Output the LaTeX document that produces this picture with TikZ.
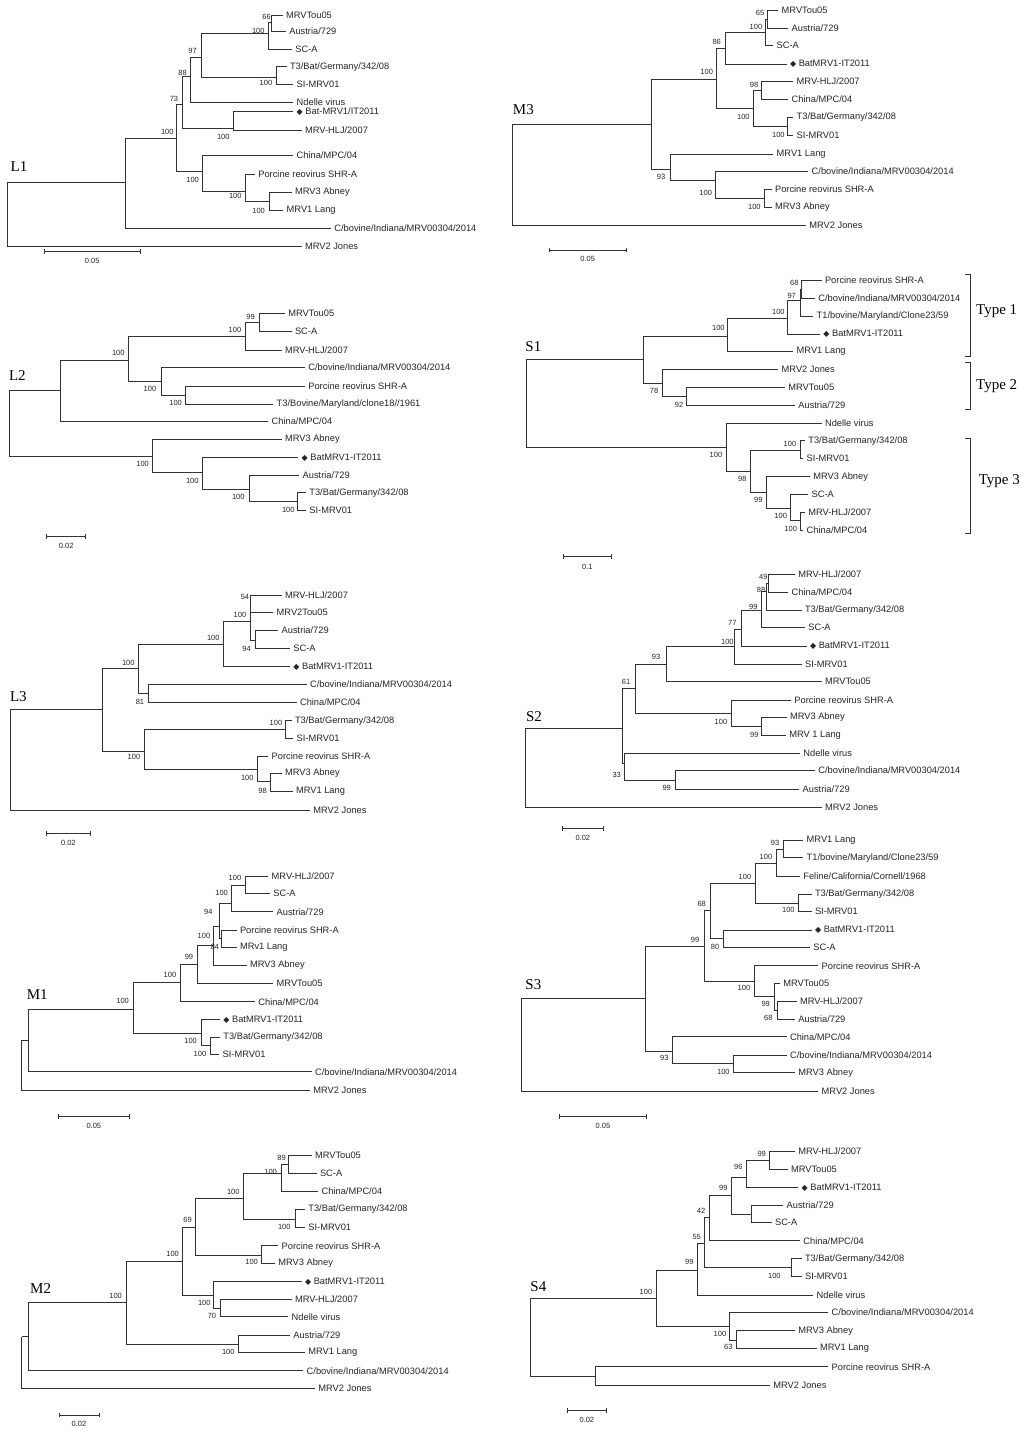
\documentclass[tikz,border=0pt]{standalone}
\usepackage{fontspec}
\setmainfont{Liberation Serif}
\newfontfamily\ar{Liberation Sans}
\newfontfamily\djv{DejaVu Sans}
\tikzset{
 lf/.style={anchor=west,inner sep=0pt,xshift=3pt,font=\ar\fontsize{9.3}{10}\selectfont,text=black!85},
 bsn/.style={inner sep=0pt,font=\ar\fontsize{7.5}{8}\selectfont,text=black!85},
 tl/.style={inner sep=0pt,font=\fontsize{15}{16}\selectfont},
 br/.style={line width=0.75pt,draw=black!80}
}
\newcommand\ed[4]{\draw[br] (#1,#2) |- (#3,#4);}
\newcommand\lf[5]{\draw[br] (#1,#2) |- (#3,#4) node[lf]{#5};}
\newcommand\bs[3]{\node[bsn] at (#1,#2) {#3};}
\newcommand\dm{{\djv\fontsize{8}{8}\selectfont ◆}\ }
\newcommand\sbar[4]{\draw[br] (#1,#3) -- (#2,#3); \draw[br] (#1,#3-7) -- (#1,#3+7); \draw[br] (#2,#3-7) -- (#2,#3+7); \node[bsn] at ({(#1+#2)/2},#3+28) {#4};}
\begin{document}
\begin{tikzpicture}[x=1pt,y=-1pt]
\useasboundingbox[fill=white] (0,0) rectangle (1024,1435);
% ---------------- L1
\begin{scope}[shift={(0,0)},scale=1/3]
\ed{22}{548}{375}{548} \lf{22}{548}{905}{740}{MRV2 Jones}
\ed{375}{548}{530}{415} \lf{375}{548}{993}{685}{C/bovine/Indiana/MRV00304/2014}
\ed{530}{415}{548}{312} \ed{530}{415}{607}{515}
\ed{548}{312}{572}{230} \ed{548}{312}{700}{385}
\ed{572}{230}{605}{172} \lf{572}{230}{880}{307}{Ndelle virus}
\ed{605}{172}{805}{100} \ed{605}{172}{828}{232}
\ed{805}{100}{815}{68} \lf{805}{100}{876}{147}{SC-A}
\lf{815}{68}{848}{45}{MRVTou05} \lf{815}{68}{858}{95}{Austria/729}
\lf{828}{232}{860}{200}{T3/Bat/Germany/342/08} \lf{828}{232}{880}{252}{SI-MRV01}
\lf{700}{385}{880}{335}{\dm Bat-MRV1/IT2011} \lf{700}{385}{905}{390}{MRV-HLJ/2007}
\lf{607}{515}{880}{465}{China/MPC/04} \ed{607}{515}{737}{575}
\lf{737}{575}{765}{522}{Porcine reovirus SHR-A} \ed{737}{575}{808}{603}
\lf{808}{603}{875}{577}{MRV3 Abney} \lf{808}{603}{850}{630}{MRV1 Lang}
\bs{800}{50}{66} \bs{775}{92}{100} \bs{578}{152}{97} \bs{548}{218}{88} \bs{798}{250}{100}
\bs{522}{298}{73} \bs{502}{395}{100} \bs{670}{412}{100} \bs{578}{540}{100} \bs{706}{588}{100} \bs{776}{632}{100}
\node[tl] at (57,500) {L1};
\sbar{133}{420}{755}{0.05}
\end{scope}
% ---------------- M3
\begin{scope}[shift={(500,0)},scale=1/3]
\ed{38}{373}{455}{373} \lf{38}{373}{918}{675}{MRV2 Jones}
\ed{455}{373}{650}{238} \ed{455}{373}{510}{507}
\ed{650}{238}{675}{145} \ed{650}{238}{760}{325}
\ed{675}{145}{795}{98} \lf{675}{145}{860}{192}{\dm BatMRV1-IT2011}
\ed{795}{98}{803}{58} \lf{795}{98}{820}{137}{SC-A}
\lf{803}{58}{835}{30}{MRVTou05} \lf{803}{58}{865}{85}{Austria/729}
\ed{760}{325}{785}{272} \ed{760}{325}{862}{380}
\lf{785}{272}{880}{245}{MRV-HLJ/2007} \lf{785}{272}{865}{298}{China/MPC/04}
\lf{862}{380}{880}{352}{T3/Bat/Germany/342/08} \lf{862}{380}{880}{405}{SI-MRV01}
\lf{510}{507}{820}{462}{MRV1 Lang} \ed{510}{507}{645}{540}
\lf{645}{540}{925}{515}{C/bovine/Indiana/MRV00304/2014} \ed{645}{540}{793}{595}
\lf{793}{595}{815}{568}{Porcine reovirus SHR-A} \lf{793}{595}{815}{622}{MRV3 Abney}
\bs{780}{40}{65} \bs{768}{80}{100} \bs{650}{125}{86} \bs{620}{215}{100} \bs{762}{255}{98}
\bs{730}{350}{100} \bs{835}{405}{100} \bs{483}{530}{93} \bs{617}{578}{100} \bs{763}{620}{100}
\node[tl] at (70,330) {M3};
\sbar{148}{378}{750}{0.05}
\end{scope}
% ---------------- L2
\begin{scope}[shift={(0,280)},scale=1/3]
\ed{28}{330}{180}{330} \ed{28}{330}{458}{528}
\ed{180}{330}{385}{240} \lf{180}{330}{805}{425}{China/MPC/04}
\ed{385}{240}{735}{170} \ed{385}{240}{483}{305}
\ed{735}{170}{778}{128} \lf{735}{170}{845}{210}{MRV-HLJ/2007}
\lf{778}{128}{855}{100}{MRVTou05} \lf{778}{128}{875}{155}{SC-A}
\lf{483}{305}{915}{263}{C/bovine/Indiana/MRV00304/2014} \ed{483}{305}{557}{345}
\lf{557}{345}{915}{318}{Porcine reovirus SHR-A} \lf{557}{345}{820}{372}{T3/Bovine/Maryland/clone18//1961}
\lf{458}{528}{845}{478}{MRV3 Abney} \ed{458}{528}{607}{578}
\lf{607}{578}{895}{532}{\dm BatMRV1-IT2011} \ed{607}{578}{748}{628}
\lf{748}{628}{898}{585}{Austria/729} \ed{748}{628}{893}{665}
\lf{893}{665}{918}{638}{T3/Bat/Germany/342/08} \lf{893}{665}{918}{690}{SI-MRV01}
\bs{752}{110}{99} \bs{705}{150}{100} \bs{355}{218}{100} \bs{450}{327}{100} \bs{527}{368}{100}
\bs{428}{552}{100} \bs{577}{602}{100} \bs{715}{650}{100} \bs{865}{690}{100}
\node[tl] at (52,288) {L2};
\sbar{140}{257}{770}{0.02}
\end{scope}
% ---------------- S1
\begin{scope}[shift={(500,270)},scale=1/3]
\ed{78}{268}{430}{268} \ed{78}{268}{678}{532}
\ed{430}{268}{683}{198} \ed{430}{268}{486}{340}
\ed{683}{198}{863}{145} \lf{683}{198}{880}{245}{MRV1 Lang}
\ed{863}{145}{900}{90} \lf{863}{145}{960}{192}{\dm BatMRV1-IT2011}
\ed{900}{90}{905}{58} \lf{900}{90}{940}{138}{T1/bovine/Maryland/Clone23/59}
\lf{905}{58}{965}{30}{Porcine reovirus SHR-A} \lf{905}{58}{945}{85}{C/bovine/Indiana/MRV00304/2014}
\lf{486}{340}{835}{298}{MRV2 Jones} \ed{486}{340}{560}{380}
\lf{560}{380}{855}{352}{MRVTou05} \lf{560}{380}{885}{405}{Austria/729}
\lf{678}{532}{965}{460}{Ndelle virus} \ed{678}{532}{750}{605}
\ed{750}{605}{902}{540} \ed{750}{605}{798}{668}
\lf{902}{540}{915}{512}{T3/Bat/Germany/342/08} \lf{902}{540}{910}{566}{SI-MRV01}
\lf{798}{668}{930}{620}{MRV3 Abney} \ed{798}{668}{872}{715}
\lf{872}{715}{925}{673}{SC-A} \ed{872}{715}{902}{752}
\lf{902}{752}{915}{727}{MRV-HLJ/2007} \lf{902}{752}{910}{780}{China/MPC/04}
\bs{883}{38}{68} \bs{875}{78}{97} \bs{835}{125}{100} \bs{655}{175}{100} \bs{462}{362}{78}
\bs{537}{405}{92} \bs{870}{522}{100} \bs{648}{555}{100} \bs{727}{628}{98} \bs{775}{690}{99}
\bs{842}{738}{100} \bs{872}{778}{100}
\node[tl] at (100,230) {S1};
\draw[br] (1395,12) -- (1412,12) -- (1412,258) -- (1395,258);
\draw[br] (1395,278) -- (1412,278) -- (1412,418) -- (1395,418);
\draw[br] (1395,505) -- (1412,505) -- (1412,790) -- (1395,790);
\node[tl] at (1490,122) {Type 1};
\node[tl] at (1490,348) {Type 2};
\node[tl] at (1498,632) {Type 3};
\draw[br] (190,860) -- (335,860); \draw[br] (190,853) -- (190,867); \draw[br] (335,853) -- (335,867);
\node[bsn] at (262,890) {0.1};
\end{scope}
% ---------------- L3
\begin{scope}[shift={(0,560)},scale=1/3]
\ed{32}{448}{308}{448} \lf{32}{448}{930}{750}{MRV2 Jones}
\ed{308}{448}{415}{325} \ed{308}{448}{432}{573}
\ed{415}{325}{670}{253} \ed{415}{325}{445}{400}
\ed{670}{253}{750}{185} \lf{670}{253}{870}{320}{\dm BatMRV1-IT2011}
\ed{750}{185}{752}{130} \ed{750}{185}{765}{240}
\lf{752}{130}{845}{105}{MRV-HLJ/2007} \lf{752}{130}{820}{158}{MRV2Tou05}
\lf{765}{240}{835}{212}{Austria/729} \lf{765}{240}{870}{265}{SC-A}
\lf{445}{400}{920}{373}{C/bovine/Indiana/MRV00304/2014} \lf{445}{400}{890}{428}{China/MPC/04}
\ed{432}{573}{855}{508} \ed{432}{573}{773}{628}
\lf{855}{508}{875}{482}{T3/Bat/Germany/342/08} \lf{855}{508}{880}{535}{SI-MRV01}
\lf{773}{628}{805}{588}{Porcine reovirus SHR-A} \ed{773}{628}{810}{665}
\lf{810}{665}{845}{640}{MRV3 Abney} \lf{810}{665}{878}{693}{MRV1 Lang}
\bs{735}{112}{54} \bs{720}{165}{100} \bs{640}{235}{100} \bs{740}{268}{94} \bs{385}{308}{100}
\bs{420}{425}{81} \bs{828}{490}{100} \bs{402}{592}{100} \bs{742}{655}{100} \bs{788}{692}{98}
\node[tl] at (55,410) {L3};
\sbar{140}{270}{820}{0.02}
\end{scope}
% ---------------- S2
\begin{scope}[shift={(500,560)},scale=1/3]
\ed{75}{505}{368}{505} \lf{75}{505}{965}{742}{MRV2 Jones}
\ed{368}{505}{405}{385} \ed{368}{505}{372}{610}
\ed{405}{385}{498}{312} \ed{405}{385}{693}{460}
\ed{498}{312}{703}{258} \lf{498}{312}{965}{365}{MRVTou05}
\ed{703}{258}{725}{208} \lf{703}{258}{905}{312}{SI-MRV01}
\ed{725}{208}{785}{150} \lf{725}{208}{920}{258}{\dm BatMRV1-IT2011}
\ed{785}{150}{800}{95} \lf{785}{150}{915}{203}{SC-A}
\ed{800}{95}{805}{70} \lf{800}{95}{905}{150}{T3/Bat/Germany/342/08}
\lf{805}{70}{885}{42}{MRV-HLJ/2007} \lf{805}{70}{865}{97}{China/MPC/04}
\lf{693}{460}{873}{420}{Porcine reovirus SHR-A} \ed{693}{460}{783}{500}
\lf{783}{500}{860}{472}{MRV3 Abney} \lf{783}{500}{858}{527}{MRV 1 Lang}
\lf{372}{610}{900}{580}{Ndelle virus} \ed{372}{610}{527}{660}
\lf{527}{660}{945}{632}{C/bovine/Indiana/MRV00304/2014} \lf{527}{660}{898}{687}{Austria/729}
\bs{790}{50}{49} \bs{783}{90}{88} \bs{760}{140}{99} \bs{697}{190}{77} \bs{682}{245}{100}
\bs{468}{292}{93} \bs{378}{365}{61} \bs{663}{485}{100} \bs{763}{525}{99} \bs{350}{645}{33} \bs{500}{685}{99}
\node[tl] at (102,470) {S2};
\sbar{187}{310}{805}{0.02}
\end{scope}
% ---------------- M1
\begin{scope}[shift={(0,860)},scale=1/3]
\ed{65}{540}{85}{540} \lf{65}{540}{930}{690}{MRV2 Jones}
\ed{85}{540}{400}{447} \lf{85}{540}{935}{635}{C/bovine/Indiana/MRV00304/2014}
\ed{400}{447}{542}{367} \ed{400}{447}{605}{520}
\ed{542}{367}{593}{312} \lf{542}{367}{765}{425}{China/MPC/04}
\ed{593}{312}{640}{255} \lf{593}{312}{820}{370}{MRVTou05}
\ed{640}{255}{658}{200} \lf{640}{255}{740}{315}{MRV3 Abney}
\ed{658}{200}{695}{130} \ed{658}{200}{663}{235}
\ed{695}{130}{737}{75} \lf{695}{130}{820}{155}{Austria/729}
\lf{737}{75}{805}{48}{MRV-HLJ/2007} \lf{737}{75}{810}{100}{SC-A}
\lf{663}{235}{710}{210}{Porcine reovirus SHR-A} \lf{663}{235}{710}{262}{MRv1 Lang}
\lf{605}{520}{660}{478}{\dm BatMRV1-IT2011} \ed{605}{520}{630}{555}
\lf{630}{555}{660}{532}{T3/Bat/Germany/342/08} \lf{630}{555}{658}{582}{SI-MRV01}
\bs{705}{55}{100} \bs{665}{98}{100} \bs{625}{155}{94} \bs{645}{262}{84} \bs{612}{228}{100}
\bs{567}{290}{99} \bs{510}{345}{100} \bs{368}{423}{100} \bs{572}{542}{100} \bs{600}{583}{100}
\node[tl] at (112,405) {M1};
\sbar{175}{388}{770}{0.05}
\end{scope}
% ---------------- S3
\begin{scope}[shift={(500,825)},scale=1/3]
\ed{65}{520}{437}{520} \lf{65}{520}{955}{798}{MRV2 Jones}
\ed{437}{520}{612}{365} \ed{437}{520}{517}{678}
\ed{612}{365}{632}{257} \ed{612}{365}{763}{468}
\ed{632}{257}{765}{175} \ed{632}{257}{670}{340}
\ed{765}{175}{828}{115} \ed{765}{175}{895}{235}
\ed{828}{115}{850}{73} \lf{828}{115}{900}{153}{Feline/California/Cornell/1968}
\lf{850}{73}{910}{45}{MRV1 Lang} \lf{850}{73}{910}{98}{T1/bovine/Maryland/Clone23/59}
\lf{895}{235}{935}{208}{T3/Bat/Germany/342/08} \lf{895}{235}{935}{260}{SI-MRV01}
\lf{670}{340}{935}{315}{\dm BatMRV1-IT2011} \lf{670}{340}{930}{368}{SC-A}
\lf{763}{468}{955}{422}{Porcine reovirus SHR-A} \ed{763}{468}{822}{515}
\lf{822}{515}{840}{475}{MRVTou05} \ed{822}{515}{832}{555}
\lf{832}{555}{890}{528}{MRV-HLJ/2007} \lf{832}{555}{885}{582}{Austria/729}
\lf{517}{678}{860}{635}{China/MPC/04} \ed{517}{678}{700}{715}
\lf{700}{715}{860}{690}{C/bovine/Indiana/MRV00304/2014} \lf{700}{715}{885}{743}{MRV3 Abney}
\bs{825}{55}{93} \bs{798}{95}{100} \bs{735}{155}{100} \bs{865}{255}{100} \bs{605}{238}{68}
\bs{585}{345}{99} \bs{645}{365}{80} \bs{732}{490}{100} \bs{797}{538}{99} \bs{805}{580}{68}
\bs{493}{700}{93} \bs{670}{740}{100}
\node[tl] at (100,480) {S3};
\sbar{178}{440}{875}{0.05}
\end{scope}
% ---------------- M2
\begin{scope}[shift={(0,1140)},scale=1/3]
\ed{65}{590}{85}{590} \lf{65}{590}{945}{745}{MRV2 Jones}
\ed{85}{590}{378}{487} \lf{85}{590}{910}{692}{C/bovine/Indiana/MRV00304/2014}
\ed{378}{487}{548}{365} \ed{378}{487}{715}{612}
\ed{548}{365}{587}{262} \ed{548}{365}{640}{465}
\ed{587}{262}{730}{175} \ed{587}{262}{785}{345}
\ed{730}{175}{845}{100} \ed{730}{175}{885}{237}
\ed{845}{100}{865}{72} \lf{845}{100}{955}{153}{China/MPC/04}
\lf{865}{72}{935}{45}{MRVTou05} \lf{865}{72}{950}{100}{SC-A}
\lf{885}{237}{915}{208}{T3/Bat/Germany/342/08} \lf{885}{237}{915}{262}{SI-MRV01}
\lf{785}{345}{835}{317}{Porcine reovirus SHR-A} \lf{785}{345}{825}{370}{MRV3 Abney}
\lf{640}{465}{905}{425}{\dm BatMRV1-IT2011} \ed{640}{465}{660}{505}
\lf{660}{505}{875}{478}{MRV-HLJ/2007} \lf{660}{505}{865}{530}{Ndelle virus}
\lf{715}{612}{870}{585}{Austria/729} \lf{715}{612}{915}{638}{MRV1 Lang}
\bs{845}{55}{89} \bs{812}{97}{100} \bs{700}{157}{100} \bs{563}{240}{69} \bs{518}{342}{100}
\bs{347}{468}{100} \bs{613}{488}{100} \bs{636}{527}{70} \bs{685}{635}{100} \bs{853}{260}{100} \bs{755}{367}{100}
\node[tl] at (122,445) {M2};
\sbar{177}{297}{825}{0.02}
\end{scope}
% ---------------- S4
\begin{scope}[shift={(500,1140)},scale=1/3]
\ed{92}{475}{470}{475} \ed{92}{475}{285}{708}
\ed{470}{475}{593}{390} \ed{470}{475}{688}{558}
\ed{593}{390}{612}{310} \lf{593}{390}{940}{465}{Ndelle virus}
\ed{612}{310}{627}{232} \ed{612}{310}{873}{383}
\ed{627}{232}{695}{165} \lf{627}{232}{900}{302}{China/MPC/04}
\ed{695}{165}{740}{113} \ed{695}{165}{755}{222}
\ed{740}{113}{808}{60} \lf{740}{113}{895}{142}{\dm BatMRV1-IT2011}
\lf{808}{60}{885}{33}{MRV-HLJ/2007} \lf{808}{60}{863}{87}{MRVTou05}
\lf{755}{222}{850}{195}{Austria/729} \lf{755}{222}{815}{248}{SC-A}
\lf{873}{383}{905}{356}{T3/Bat/Germany/342/08} \lf{873}{383}{905}{410}{SI-MRV01}
\lf{688}{558}{985}{517}{C/bovine/Indiana/MRV00304/2014} \ed{688}{558}{708}{600}
\lf{708}{600}{885}{572}{MRV3 Abney} \lf{708}{600}{950}{625}{MRV1 Lang}
\lf{285}{708}{985}{680}{Porcine reovirus SHR-A} \lf{285}{708}{810}{735}{MRV2 Jones}
\bs{785}{42}{99} \bs{715}{82}{96} \bs{670}{145}{99} \bs{603}{213}{42} \bs{590}{290}{55}
\bs{568}{367}{99} \bs{438}{455}{100} \bs{823}{407}{100} \bs{660}{582}{100} \bs{685}{622}{63}
\node[tl] at (115,440) {S4};
\sbar{203}{318}{812}{0.02}
\end{scope}
\end{tikzpicture}
\end{document}
